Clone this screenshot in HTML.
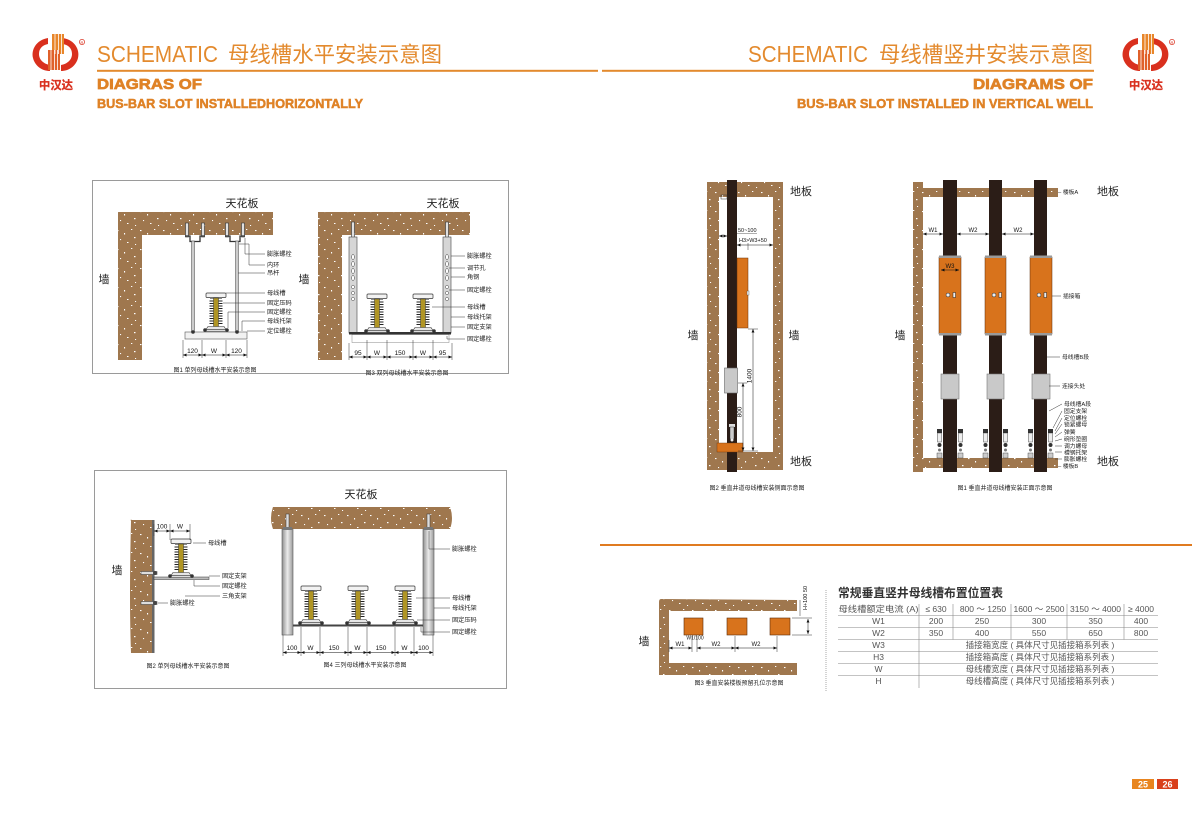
<!DOCTYPE html>
<html><head><meta charset="utf-8"><style>
html,body{margin:0;padding:0;background:#fff;}
svg{display:block;}
text{font-family:"Liberation Sans","Noto Sans CJK SC",sans-serif;}
.lb{font-size:6.2px;fill:#222;}
.dm{font-size:6.5px;fill:#111;text-anchor:middle;}
.cap{font-size:6px;fill:#222;text-anchor:middle;}
.big{font-size:11px;fill:#222;}
.tb{font-size:8.5px;fill:#555;text-anchor:middle;}
.ld{stroke:#333;stroke-width:0.5;fill:none;}
.dl{stroke:#111;stroke-width:0.5;marker-start:url(#ar);marker-end:url(#ar);}
.tk{stroke:#333;stroke-width:0.5;}
</style></head><body>
<svg width="1200" height="814" viewBox="0 0 1200 814" xmlns="http://www.w3.org/2000/svg">
<defs>
<pattern id="br" width="23" height="19" patternUnits="userSpaceOnUse">
<rect width="23" height="19" fill="#9F774E"/>
<g fill="#fff">
<rect x="2" y="2" width="1.5" height="1.1"/>
<rect x="9" y="5" width="1.1" height="1.5"/>
<rect x="16" y="1" width="1.3" height="1"/>
<rect x="19" y="9" width="1.5" height="1.2"/>
<rect x="5" y="11" width="1.1" height="1.1"/>
<rect x="12" y="14" width="1.5" height="1"/>
<rect x="20" y="16" width="1.1" height="1"/>
</g>
</pattern>
<linearGradient id="pg" x1="0" x2="1" y1="0" y2="0">
<stop offset="0" stop-color="#8f8f8f"/><stop offset="0.5" stop-color="#ececec"/><stop offset="1" stop-color="#9a9a9a"/>
</linearGradient>
<marker id="ar" viewBox="0 0 6 6" refX="6" refY="3" markerWidth="3.5" markerHeight="3.5" markerUnits="userSpaceOnUse" orient="auto-start-reverse"><path d="M0,0.5 L6,3 L0,5.5Z" fill="#111"/></marker>
<g id="bus">
<rect x="-10" y="0" width="20" height="4.5" rx="1" fill="#f2f2f2" stroke="#333" stroke-width="0.7"/>
<rect x="-6" y="4.5" width="12" height="1.5" fill="#888"/>
<g stroke="#222" stroke-width="1">
<line x1="-6.5" y1="8" x2="6.5" y2="8"/><line x1="-6.5" y1="10.5" x2="6.5" y2="10.5"/>
<line x1="-6.5" y1="13" x2="6.5" y2="13"/><line x1="-6.5" y1="15.5" x2="6.5" y2="15.5"/>
<line x1="-6.5" y1="18" x2="6.5" y2="18"/><line x1="-6.5" y1="20.5" x2="6.5" y2="20.5"/>
<line x1="-6.5" y1="23" x2="6.5" y2="23"/><line x1="-6.5" y1="25.5" x2="6.5" y2="25.5"/>
<line x1="-6.5" y1="28" x2="6.5" y2="28"/><line x1="-6.5" y1="30.5" x2="6.5" y2="30.5"/>
</g>
<rect x="-2.5" y="5" width="5" height="29" fill="#B09524" stroke="#333" stroke-width="0.5"/>
<path d="M-8,33.5 L8,33.5 L10,36.5 L-10,36.5 Z" fill="#e6e6e6" stroke="#333" stroke-width="0.6"/>
<rect x="-12" y="36.5" width="24" height="2" fill="#ddd" stroke="#333" stroke-width="0.5"/>
<circle cx="-11" cy="37" r="1.8" fill="#333"/><circle cx="11" cy="37" r="1.8" fill="#333"/>
</g>
<g id="logo">
<path d="M48,38 C36,40 31,50 33,58 C35,66 42,71 50,71 L50,65 C44,64 39,60 39,54 C39,48 43,45 48,44 Z" fill="#D9301E"/>
<path d="M63,38 C75,40 80,50 78,58 C76,66 69,71 61,71 L61,65 C67,64 72,60 72,54 C72,48 68,45 63,44 Z" fill="#D9301E"/>
<rect x="52" y="34" width="12" height="20" fill="#E8862A"/>
<rect x="48" y="50" width="12" height="20" fill="#E0602A"/>
<g stroke="#fff" stroke-width="0.8"><line x1="55" y1="34" x2="55" y2="54"/><line x1="58.5" y1="34" x2="58.5" y2="54"/><line x1="61.5" y1="34" x2="61.5" y2="54"/><line x1="51" y1="50" x2="51" y2="70"/><line x1="54.5" y1="50" x2="54.5" y2="70"/><line x1="57.5" y1="50" x2="57.5" y2="70"/></g>
<text x="56" y="89" font-size="11.5" font-weight="bold" fill="#D9301E" stroke="#D9301E" stroke-width="0.3" text-anchor="middle" textLength="34" lengthAdjust="spacingAndGlyphs">中汉达</text>
<circle cx="82" cy="42" r="2.6" fill="none" stroke="#D9301E" stroke-width="0.7"/>
<text x="82" y="43.8" font-size="4" fill="#D9301E" text-anchor="middle">R</text>
</g>
</defs>

<!-- ===== HEADERS ===== -->
<use href="#logo"/>
<text x="97" y="62" font-size="23" fill="#E38A2E" textLength="121" lengthAdjust="spacingAndGlyphs">SCHEMATIC</text>
<text x="228" y="62" font-size="21.5" fill="#E38A2E" textLength="214" lengthAdjust="spacingAndGlyphs">母线槽水平安装示意图</text>
<rect x="97" y="69.8" width="501" height="2" fill="#E38A2E"/>
<text x="97" y="89" font-size="15" font-weight="bold" fill="#DF8226" stroke="#DF8226" stroke-width="0.7" textLength="105" lengthAdjust="spacingAndGlyphs">DIAGRAS OF</text>
<text x="97" y="108" font-size="12.5" font-weight="bold" fill="#DF8226" stroke="#DF8226" stroke-width="0.5" textLength="266" lengthAdjust="spacingAndGlyphs">BUS-BAR SLOT INSTALLEDHORIZONTALLY</text>

<g transform="translate(1090,0)"><use href="#logo"/></g>
<text x="748" y="62" font-size="23" fill="#E38A2E" textLength="120" lengthAdjust="spacingAndGlyphs">SCHEMATIC</text>
<text x="879" y="62" font-size="21.5" fill="#E38A2E" textLength="214" lengthAdjust="spacingAndGlyphs">母线槽竖井安装示意图</text>
<rect x="602" y="69.8" width="492" height="2" fill="#E38A2E"/>
<text x="973" y="89" font-size="15" font-weight="bold" fill="#DF8226" stroke="#DF8226" stroke-width="0.7" textLength="120" lengthAdjust="spacingAndGlyphs">DIAGRAMS OF</text>
<text x="797" y="108" font-size="12.5" font-weight="bold" fill="#DF8226" stroke="#DF8226" stroke-width="0.5" textLength="296" lengthAdjust="spacingAndGlyphs">BUS-BAR SLOT INSTALLED  IN VERTICAL WELL</text>

<!-- ===== BOX 1 ===== -->
<rect x="92.5" y="180.5" width="416" height="193" fill="none" stroke="#9a9a9a" stroke-width="1"/>

<!-- Fig1 -->
<text x="242" y="207" class="big" text-anchor="middle">天花板</text>
<path d="M118,212H273V235H142V360H118Z" fill="url(#br)"/>
<text x="104" y="283" class="big" font-size="10" text-anchor="middle">墙</text>
<g fill="#e0e0e0" stroke="#333" stroke-width="0.6">
<rect x="185.5" y="223" width="3" height="14"/><rect x="201.5" y="223" width="3" height="14"/>
<rect x="225.5" y="223" width="3" height="14"/><rect x="241.5" y="223" width="3" height="14"/>
</g>
<path d="M185,236 L190,236 L190,241.5 L200,241.5 L200,236 L205,236" stroke="#333" stroke-width="1.3" fill="none"/>
<path d="M225,236 L230,236 L230,241.5 L240,241.5 L240,236 L245,236" stroke="#333" stroke-width="1.3" fill="none"/>
<rect x="191.5" y="241" width="3" height="91" fill="#ccc" stroke="#444" stroke-width="0.5"/>
<rect x="235.5" y="241" width="3" height="91" fill="#ccc" stroke="#444" stroke-width="0.5"/>
<rect x="185" y="332" width="62" height="7" fill="#f2f2f2" stroke="#555" stroke-width="0.6"/>
<use href="#bus" transform="translate(216,293)"/>
<circle cx="193" cy="332" r="1.8" fill="#333"/><circle cx="237" cy="332" r="1.8" fill="#333"/>
<polyline class="ld" points="245,238 245,254 265,254"/>
<polyline class="ld" points="239,244 249,244 249,265 265,265"/>
<line class="ld" x1="238" y1="273" x2="265" y2="273"/>
<line class="ld" x1="226" y1="293" x2="265" y2="293"/>
<line class="ld" x1="223" y1="303" x2="265" y2="303"/>
<polyline class="ld" points="228,328 228,312 265,312"/>
<polyline class="ld" points="242,331 242,321 265,321"/>
<line class="ld" x1="247" y1="331" x2="265" y2="331"/>
<g class="lb">
<text x="267" y="256">膨胀螺栓</text><text x="267" y="267">内环</text><text x="267" y="275">吊杆</text>
<text x="267" y="295">母线槽</text><text x="267" y="305">固定压码</text><text x="267" y="314">固定螺栓</text>
<text x="267" y="323">母线托架</text><text x="267" y="333">定位螺栓</text>
</g>
<g class="tk"><line x1="183" y1="340" x2="183" y2="358"/><line x1="202" y1="340" x2="202" y2="358"/><line x1="226" y1="340" x2="226" y2="358"/><line x1="247" y1="340" x2="247" y2="358"/></g>
<line class="dl" x1="183" y1="355" x2="202" y2="355"/><line class="dl" x1="202" y1="355" x2="226" y2="355"/><line class="dl" x1="226" y1="355" x2="247" y2="355"/>
<text class="dm" x="192.5" y="353">120</text><text class="dm" x="214" y="353">W</text><text class="dm" x="236.5" y="353">120</text>
<text class="cap" x="215" y="372">图1  单列母线槽水平安装示意图</text>

<!-- Fig3 -->
<text x="443" y="207" class="big" text-anchor="middle">天花板</text>
<path d="M318,212H470V235H342V360H318Z" fill="url(#br)"/>
<text x="304" y="283" class="big" font-size="10" text-anchor="middle">墙</text>
<rect x="351.5" y="222" width="3" height="16" fill="#e0e0e0" stroke="#333" stroke-width="0.6"/>
<rect x="445.5" y="222" width="3" height="16" fill="#e0e0e0" stroke="#333" stroke-width="0.6"/>
<rect x="349" y="237" width="8" height="96" fill="#d6d6d6" stroke="#444" stroke-width="0.6"/>
<rect x="443" y="237" width="8" height="96" fill="#d6d6d6" stroke="#444" stroke-width="0.6"/>
<g fill="#fff" stroke="#444" stroke-width="0.5">
<ellipse cx="353" cy="257" rx="1.3" ry="2.6"/><ellipse cx="353" cy="264" rx="1.3" ry="2.6"/><ellipse cx="353" cy="271" rx="1.3" ry="2.6"/><ellipse cx="353" cy="278" rx="1.3" ry="2.6"/>
<circle cx="353" cy="287" r="1.6"/><circle cx="353" cy="293" r="1.6"/><circle cx="353" cy="299" r="1.6"/>
<ellipse cx="447" cy="257" rx="1.3" ry="2.6"/><ellipse cx="447" cy="264" rx="1.3" ry="2.6"/><ellipse cx="447" cy="271" rx="1.3" ry="2.6"/><ellipse cx="447" cy="278" rx="1.3" ry="2.6"/>
<circle cx="447" cy="287" r="1.6"/><circle cx="447" cy="293" r="1.6"/><circle cx="447" cy="299" r="1.6"/>
</g>
<rect x="352" y="334.5" width="97" height="8" fill="#fff" stroke="#888" stroke-width="0.5"/>
<rect x="349" y="332" width="102" height="2.5" fill="#333"/>
<use href="#bus" transform="translate(377,294)"/>
<use href="#bus" transform="translate(423,294)"/>
<g class="ld">
<line x1="451" y1="256" x2="465" y2="256"/><line x1="449" y1="268" x2="465" y2="268"/>
<line x1="451" y1="277" x2="465" y2="277"/><line x1="449" y1="290" x2="465" y2="290"/>
<line x1="432" y1="307" x2="465" y2="307"/><line x1="451" y1="317" x2="465" y2="317"/>
<line x1="451" y1="327" x2="465" y2="327"/><polyline points="447,336 447,339 465,339"/>
</g>
<g class="lb">
<text x="467" y="258">膨胀螺栓</text><text x="467" y="270">调节孔</text><text x="467" y="279">角钢</text>
<text x="467" y="292">固定螺栓</text><text x="467" y="309">母线槽</text><text x="467" y="319">母线托架</text>
<text x="467" y="329">固定支架</text><text x="467" y="341">固定螺栓</text>
</g>
<g class="tk"><line x1="349" y1="343" x2="349" y2="360"/><line x1="367" y1="340" x2="367" y2="360"/><line x1="387" y1="340" x2="387" y2="360"/><line x1="413" y1="340" x2="413" y2="360"/><line x1="433" y1="340" x2="433" y2="360"/><line x1="452" y1="343" x2="452" y2="360"/></g>
<line class="dl" x1="349" y1="357" x2="367" y2="357"/><line class="dl" x1="367" y1="357" x2="387" y2="357"/><line class="dl" x1="387" y1="357" x2="413" y2="357"/><line class="dl" x1="413" y1="357" x2="433" y2="357"/><line class="dl" x1="433" y1="357" x2="452" y2="357"/>
<text class="dm" x="358" y="355">95</text><text class="dm" x="377" y="355">W</text><text class="dm" x="400" y="355">150</text><text class="dm" x="423" y="355">W</text><text class="dm" x="442.5" y="355">95</text>
<text class="cap" x="407" y="375">图3  双列母线槽水平安装示意图</text>

<!-- ===== BOX 2 ===== -->
<rect x="94.5" y="470.5" width="412" height="218" fill="none" stroke="#9a9a9a" stroke-width="1"/>

<!-- Fig2 -->
<path d="M131,521 Q130,519 132,520 L152,520 L152,653 L131,653 Q129,600 131,521Z" fill="url(#br)"/>
<rect x="152" y="520" width="2.5" height="133" fill="#666"/>
<text x="117" y="574" class="big" font-size="10" text-anchor="middle">墙</text>
<rect x="141" y="571.5" width="16" height="3" fill="#ddd" stroke="#333" stroke-width="0.5"/><circle cx="155" cy="573" r="2" fill="#444"/>
<rect x="141" y="601.5" width="16" height="3" fill="#ddd" stroke="#333" stroke-width="0.5"/><circle cx="155" cy="603" r="2" fill="#444"/>
<rect x="154" y="577" width="55" height="2.5" fill="#bbb" stroke="#333" stroke-width="0.5"/>
<use href="#bus" transform="translate(181,539)"/>
<g class="tk"><line x1="154" y1="524" x2="154" y2="536"/><line x1="170" y1="524" x2="170" y2="540"/><line x1="190" y1="524" x2="190" y2="540"/></g>
<line class="dl" x1="154" y1="531" x2="170" y2="531"/><line class="dl" x1="170" y1="531" x2="190" y2="531"/>
<text class="dm" x="162" y="528.5">100</text><text class="dm" x="180" y="528.5">W</text>
<g class="ld">
<line x1="193" y1="543" x2="206" y2="543"/><line x1="209" y1="576" x2="220" y2="576"/>
<polyline points="194,580 194,586 220,586"/><line x1="185" y1="596" x2="220" y2="596"/>
<line x1="158" y1="603" x2="168" y2="603"/>
</g>
<g class="lb">
<text x="208" y="545">母线槽</text><text x="222" y="578">固定支架</text><text x="222" y="588">固定螺栓</text>
<text x="222" y="598">三角支架</text><text x="170" y="605">膨胀螺栓</text>
</g>
<text class="cap" x="188" y="668">图2  单列母线槽水平安装示意图</text>

<!-- Fig4 -->
<text x="361" y="498" class="big" font-size="12" text-anchor="middle">天花板</text>
<path d="M273,507 L450,507 Q454,518 450,529 L273,529 Q269,518 273,507 Z" fill="url(#br)"/>
<rect x="282" y="529" width="11" height="106" fill="url(#pg)" stroke="#555" stroke-width="0.6"/>
<rect x="423" y="529" width="11" height="106" fill="url(#pg)" stroke="#555" stroke-width="0.6"/>
<rect x="286" y="514" width="3" height="15" fill="#ddd" stroke="#333" stroke-width="0.5"/><rect x="283" y="527" width="9" height="3" fill="#777"/>
<rect x="427" y="514" width="3" height="15" fill="#ddd" stroke="#333" stroke-width="0.5"/><rect x="424" y="527" width="9" height="3" fill="#777"/>
<rect x="293" y="624.5" width="130" height="2" fill="#444"/>
<use href="#bus" transform="translate(311,586)"/>
<use href="#bus" transform="translate(358,586)"/>
<use href="#bus" transform="translate(405,586)"/>
<g class="ld">
<polyline points="429,531 429,549 450,549"/><line x1="416" y1="598" x2="450" y2="598"/>
<line x1="434" y1="608" x2="450" y2="608"/><line x1="417" y1="620" x2="450" y2="620"/>
<polyline points="421,627 421,632 450,632"/>
</g>
<g class="lb">
<text x="452" y="551">膨胀螺栓</text><text x="452" y="600">母线槽</text><text x="452" y="610">母线托架</text>
<text x="452" y="622">固定压码</text><text x="452" y="634">固定螺栓</text>
</g>
<g class="tk"><line x1="283" y1="635" x2="283" y2="656"/><line x1="301" y1="627" x2="301" y2="656"/><line x1="320" y1="627" x2="320" y2="656"/><line x1="348" y1="627" x2="348" y2="656"/><line x1="367" y1="627" x2="367" y2="656"/><line x1="395" y1="627" x2="395" y2="656"/><line x1="414" y1="627" x2="414" y2="656"/><line x1="433" y1="635" x2="433" y2="656"/></g>
<line class="dl" x1="283" y1="652.5" x2="301" y2="652.5"/><line class="dl" x1="301" y1="652.5" x2="320" y2="652.5"/><line class="dl" x1="320" y1="652.5" x2="348" y2="652.5"/><line class="dl" x1="348" y1="652.5" x2="367" y2="652.5"/><line class="dl" x1="367" y1="652.5" x2="395" y2="652.5"/><line class="dl" x1="395" y1="652.5" x2="414" y2="652.5"/><line class="dl" x1="414" y1="652.5" x2="433" y2="652.5"/>
<text class="dm" x="292" y="650">100</text><text class="dm" x="310.5" y="650">W</text><text class="dm" x="334" y="650">150</text><text class="dm" x="357.5" y="650">W</text><text class="dm" x="381" y="650">150</text><text class="dm" x="404.5" y="650">W</text><text class="dm" x="423.5" y="650">100</text>
<text class="cap" x="365" y="667">图4  三列母线槽水平安装示意图</text>

<!-- ===== RIGHT: Vertical side (fig2) ===== -->
<path d="M707,182H783V470H707Z M719,197V452H773V197Z" fill="url(#br)" fill-rule="evenodd"/>
<rect x="727" y="180" width="10" height="292" fill="#2B1D17"/>
<rect x="721" y="195" width="6" height="4" fill="none" stroke="#333" stroke-width="0.5"/>
<rect x="737" y="258" width="11" height="70" fill="#D8731C" stroke="#6b3208" stroke-width="0.5"/>
<rect x="747" y="291" width="2" height="4" fill="#eee" stroke="#333" stroke-width="0.3"/>
<rect x="724.5" y="368" width="13" height="25" fill="#c9c9c9" stroke="#666" stroke-width="0.6"/>
<rect x="729" y="424" width="6" height="3" fill="#ddd"/>
<rect x="730" y="427" width="4" height="12" fill="#ccc" stroke="#222" stroke-width="0.4"/>
<circle cx="732" cy="440" r="1.5" fill="#eee"/>
<rect x="717" y="443" width="26" height="9" fill="#D8731C" stroke="#6b3208" stroke-width="0.4"/>
<text x="738" y="232" font-size="5.5" fill="#111">50~100</text>
<line x1="737" y1="233.5" x2="757" y2="233.5" stroke="#333" stroke-width="0.4"/>
<line class="dl" x1="719" y1="236" x2="727" y2="236"/>
<text x="739" y="242" font-size="5.5" fill="#111">H3&gt;W3+50</text>
<line class="dl" x1="737" y1="245" x2="773" y2="245"/>
<line class="tk" x1="748" y1="243" x2="748" y2="250"/>
<line class="tk" x1="748" y1="329" x2="758" y2="329"/>
<line class="tk" x1="738" y1="383" x2="747" y2="383"/>
<line class="tk" x1="738" y1="451" x2="758" y2="451"/>
<line class="dl" x1="753" y1="329" x2="753" y2="451"/>
<line class="dl" x1="743" y1="383" x2="743" y2="451"/>
<text transform="translate(751.5,376) rotate(-90)" class="dm">1400</text>
<text transform="translate(741.5,412) rotate(-90)" class="dm">800</text>
<text x="790" y="195" class="big">地板</text>
<text x="790" y="465" class="big">地板</text>
<text x="693" y="339" class="big" font-size="10" text-anchor="middle">墙</text>
<text x="794" y="339" class="big" font-size="10" text-anchor="middle">墙</text>
<text class="cap" x="757" y="490">图2  垂直井道母线槽安装侧面示意图</text>

<!-- ===== RIGHT: Vertical front (fig1) ===== -->
<path d="M913,182 L923,182 L923,188 L1058,188 L1058,197 L923,197 L923,458 L1058,458 L1058,468 L923,468 L923,472 L913,472 Z" fill="url(#br)"/>
<rect x="943" y="180" width="14" height="292" fill="#2B1D17"/>
<rect x="989" y="180" width="13" height="292" fill="#2B1D17"/>
<rect x="1034" y="180" width="13" height="292" fill="#2B1D17"/>
<g fill="#D8731C" stroke="#5a2a08" stroke-width="0.5">
<rect x="939" y="257" width="22" height="77"/><rect x="985" y="257" width="21" height="77"/><rect x="1030" y="257" width="22" height="77"/>
</g>
<g fill="#9a9a9a">
<rect x="939" y="255.5" width="22" height="2.5"/><rect x="985" y="255.5" width="21" height="2.5"/><rect x="1030" y="255.5" width="22" height="2.5"/>
<rect x="939" y="333" width="22" height="2.5"/><rect x="985" y="333" width="21" height="2.5"/><rect x="1030" y="333" width="22" height="2.5"/>
</g>
<g fill="#eee" stroke="#222" stroke-width="0.5">
<circle cx="948" cy="295" r="2"/><rect x="953" y="292.5" width="2.5" height="5"/>
<circle cx="994" cy="295" r="2"/><rect x="999" y="292.5" width="2.5" height="5"/>
<circle cx="1039" cy="295" r="2"/><rect x="1044" y="292.5" width="2.5" height="5"/>
</g>
<line class="dl" x1="941" y1="270" x2="959" y2="270"/>
<text x="950" y="268" font-size="6" fill="#111" text-anchor="middle">W3</text>
<g fill="#c9c9c9" stroke="#777" stroke-width="0.6">
<rect x="941" y="374" width="18" height="25"/><rect x="987" y="374" width="17" height="25"/><rect x="1032" y="374" width="18" height="25"/>
</g>
<g stroke-width="0.4">
<g id="sup">
<rect x="937" y="429" width="5" height="4" fill="#333"/>
<rect x="937.5" y="433" width="4" height="9" fill="#eee" stroke="#222"/>
<circle cx="939.5" cy="445" r="2" fill="#333"/>
<circle cx="939.5" cy="450" r="1.5" fill="#777"/>
<rect x="937" y="453" width="5" height="5" fill="#ccc" stroke="#333"/>
</g>
<use href="#sup" transform="translate(21,0)"/>
<use href="#sup" transform="translate(46,0)"/>
<use href="#sup" transform="translate(66,0)"/>
<use href="#sup" transform="translate(91,0)"/>
<use href="#sup" transform="translate(111,0)"/>
</g>
<line class="dl" x1="923" y1="234" x2="943" y2="234"/>
<line class="dl" x1="957" y1="234" x2="989" y2="234"/>
<line class="dl" x1="1002" y1="234" x2="1034" y2="234"/>
<text x="933" y="232" font-size="6" fill="#111" text-anchor="middle">W1</text>
<text x="973" y="232" font-size="6" fill="#111" text-anchor="middle">W2</text>
<text x="1018" y="232" font-size="6" fill="#111" text-anchor="middle">W2</text>
<g class="ld">
<line x1="1052" y1="296" x2="1061" y2="296"/>
<line x1="1047" y1="357" x2="1060" y2="357"/>
<line x1="1049" y1="386" x2="1060" y2="386"/>
<line x1="1049" y1="411" x2="1062" y2="404"/>
<line x1="1053" y1="428" x2="1062" y2="411"/>
<line x1="1055" y1="431" x2="1062" y2="418"/>
<line x1="1055" y1="434" x2="1062" y2="424"/>
<line x1="1055" y1="437" x2="1062" y2="432"/>
<line x1="1055" y1="441" x2="1062" y2="439"/>
<line x1="1055" y1="446" x2="1062" y2="446"/>
<line x1="1055" y1="452" x2="1062" y2="452"/>
<line x1="1055" y1="459" x2="1062" y2="459"/>
</g>
<g class="lb">
<text x="1058" y="194" style="font-size:5.8px">– 楼板A</text>
<text x="1063" y="298" style="font-size:5.8px">插接箱</text>
<text x="1062" y="359" style="font-size:5.8px">母线槽B段</text>
<text x="1062" y="388" style="font-size:5.8px">连接头处</text>
<text x="1064" y="406" style="font-size:5.8px">母线槽A段</text>
<text x="1064" y="413" style="font-size:5.8px">固定支架</text>
<text x="1064" y="420" style="font-size:5.8px">定位螺栓</text>
<text x="1064" y="426.5" style="font-size:5.8px">锁紧螺母</text>
<text x="1064" y="434" style="font-size:5.8px">弹簧</text>
<text x="1064" y="441" style="font-size:5.8px">碗形垫圈</text>
<text x="1064" y="448" style="font-size:5.8px">调力螺母</text>
<text x="1064" y="454.5" style="font-size:5.8px">槽钢托架</text>
<text x="1064" y="461" style="font-size:5.8px">膨胀螺栓</text>
<text x="1058" y="468" style="font-size:5.8px">– 楼板B</text>
</g>
<text x="1097" y="195" class="big">地板</text>
<text x="1097" y="465" class="big">地板</text>
<text x="900" y="339" class="big" font-size="10" text-anchor="middle">墙</text>
<text class="cap" x="1005" y="490">图1  垂直井道母线槽安装正面示意图</text>

<!-- separator -->
<rect x="600" y="544" width="592" height="2" fill="#E07B20"/>

<!-- ===== Fig3 plan ===== -->
<path d="M661,599 Q659,599 659,602 L659,675 L797,675 L797,663 L669,663 L669,611 L797,611 L797,600 Z" fill="url(#br)"/>
<g fill="#D8731C" stroke="#5a2a08" stroke-width="0.6">
<rect x="684" y="618" width="19" height="17"/><rect x="727" y="618" width="20" height="17"/><rect x="770" y="618" width="20" height="17"/>
</g>
<g class="tk">
<line x1="669" y1="640" x2="669" y2="652"/><line x1="692" y1="636" x2="692" y2="652"/><line x1="697" y1="636" x2="697" y2="652"/>
<line x1="735" y1="636" x2="735" y2="652"/><line x1="777" y1="636" x2="777" y2="652"/>
</g>
<line class="dl" x1="669" y1="648" x2="692" y2="648"/>
<line class="dl" x1="697" y1="648" x2="735" y2="648"/>
<line class="dl" x1="735" y1="648" x2="777" y2="648"/>
<text x="680" y="646" font-size="6" fill="#111" text-anchor="middle">W1</text>
<text x="716" y="646" font-size="6" fill="#111" text-anchor="middle">W2</text>
<text x="756" y="646" font-size="6" fill="#111" text-anchor="middle">W2</text>
<text x="695" y="639.5" font-size="5" fill="#111" text-anchor="middle">W1/100</text>
<line class="tk" x1="792" y1="618" x2="812" y2="618"/>
<line class="tk" x1="792" y1="635" x2="812" y2="635"/>
<line class="dl" x1="808" y1="619" x2="808" y2="634"/>
<line class="tk" x1="800" y1="600" x2="800" y2="616"/>
<text transform="translate(807,598) rotate(-90)" font-size="5.5" fill="#111" text-anchor="middle">H+100 50</text>
<text x="644" y="645" class="big" font-size="10" text-anchor="middle">墙</text>
<text class="cap" x="739" y="685">图3  垂直安装楼板预留孔位示意图</text>

<!-- dotted divider -->
<line x1="826" y1="590" x2="826" y2="692" stroke="#aaa" stroke-width="1" stroke-dasharray="1 1"/>

<!-- ===== Table ===== -->
<text x="838" y="597" font-size="12" font-weight="bold" fill="#333" textLength="165" lengthAdjust="spacingAndGlyphs">常规垂直竖井母线槽布置位置表</text>
<g stroke="#888" stroke-width="0.6">
<line x1="838" y1="615.5" x2="1158" y2="615.5"/>
<line x1="838" y1="627.5" x2="1158" y2="627.5"/>
<line x1="838" y1="639.5" x2="1158" y2="639.5"/>
<line x1="838" y1="651.5" x2="1158" y2="651.5"/>
<line x1="838" y1="663.5" x2="1158" y2="663.5"/>
<line x1="838" y1="675.5" x2="1158" y2="675.5"/>
<line x1="919" y1="604" x2="919" y2="688"/>
<line x1="953" y1="604" x2="953" y2="639.5"/>
<line x1="1011" y1="604" x2="1011" y2="639.5"/>
<line x1="1067" y1="604" x2="1067" y2="639.5"/>
<line x1="1124" y1="604" x2="1124" y2="639.5"/>
</g>
<g class="tb">
<text x="878.5" y="612" textLength="80" lengthAdjust="spacingAndGlyphs">母线槽额定电流 (A)</text>
<text x="936" y="612">≤ 630</text>
<text x="983" y="612">800 ～ 1250</text>
<text x="1039" y="612">1600 ～ 2500</text>
<text x="1095.5" y="612">3150 ～ 4000</text>
<text x="1141" y="612">≥ 4000</text>
<text x="878.5" y="624">W1</text><text x="936" y="624">200</text><text x="982" y="624">250</text><text x="1039" y="624">300</text><text x="1095.5" y="624">350</text><text x="1141" y="624">400</text>
<text x="878.5" y="636">W2</text><text x="936" y="636">350</text><text x="982" y="636">400</text><text x="1039" y="636">550</text><text x="1095.5" y="636">650</text><text x="1141" y="636">800</text>
<text x="878.5" y="648">W3</text><text x="1040" y="648">插接箱宽度 ( 具体尺寸见插接箱系列表 )</text>
<text x="878.5" y="660">H3</text><text x="1040" y="660">插接箱高度 ( 具体尺寸见插接箱系列表 )</text>
<text x="878.5" y="672">W</text><text x="1040" y="672">母线槽宽度 ( 具体尺寸见插接箱系列表 )</text>
<text x="878.5" y="684">H</text><text x="1040" y="684">母线槽高度 ( 具体尺寸见插接箱系列表 )</text>
</g>

<!-- page numbers -->
<rect x="1132" y="779" width="22" height="10" fill="#E8851F"/>
<rect x="1157" y="779" width="21" height="10" fill="#D9401C"/>
<text x="1143" y="787.5" font-size="9" font-weight="bold" fill="#fff" text-anchor="middle">25</text>
<text x="1167.5" y="787.5" font-size="9" font-weight="bold" fill="#fff" text-anchor="middle">26</text>
</svg>
</body></html>
